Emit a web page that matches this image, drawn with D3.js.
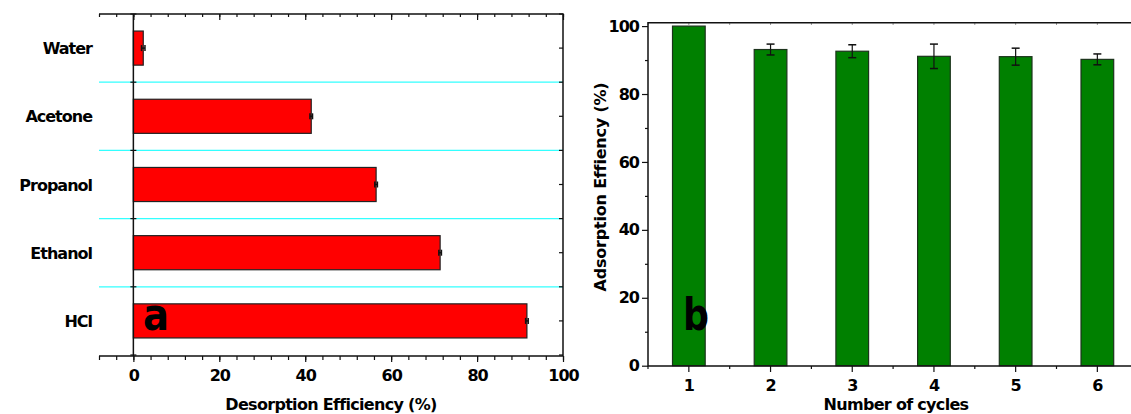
<!DOCTYPE html>
<html>
<head>
<meta charset="utf-8">
<script src="https://cdn.jsdelivr.net/npm/d3@7"></script>
<style>
  body { margin: 0; background: #fff; }
  text { font-family: "DejaVu Sans", sans-serif; font-weight: bold; fill: #000; }
</style>
</head>
<body>
<div id="chart"></div>
<script>
// panel a data
const solvents = ["Water", "Acetone", "Propanol", "Ethanol", "HCl"];
const desorption = [2.3, 41.4, 56.5, 71.4, 91.6];
const desorptionErr = [0.4, 0.3, 0.3, 0.3, 0.3];
const aTicks = [0, 20, 40, 60, 80, 100];

// panel b data
const cycles = ["1", "2", "3", "4", "5", "6"];
const adsorption = [100, 93.1, 92.6, 91.1, 91.0, 90.2];
const adsorptionErr = [0, 1.6, 1.9, 3.6, 2.5, 1.6];
const bTicks = [0, 20, 40, 60, 80, 100];

const W = 1131, H = 414;

const svg = d3.select("#chart")
    .append("svg")
    .attr("width", W)
    .attr("height", H);

//----- panel a -----
const xa = d3.scaleLinear().domain([-8, 100]).range([99, 563]);
const ya = d3.scaleBand().domain(solvents).range([14, 355])
    .paddingInner(0.5).paddingOuter(0.25);

const ga = svg.append("g");

// cyan separators between categories
const bounds = solvents.slice(1).map(s => ya(s) - ya.step() * 0.25);
ga.selectAll("line.sep")
    .data(bounds)
    .enter()
    .append("line")
    .attr("x1", 99).attr("x2", 563)
    .attr("y1", d => d).attr("y2", d => d)
    .attr("stroke", "#33ffff")
    .attr("stroke-width", 1.2);

// bars
ga.selectAll("rect")
    .data(solvents)
    .enter()
    .append("rect")
    .attr("x", xa(0))
    .attr("y", d => ya(d))
    .attr("width", (d, i) => xa(desorption[i]) - xa(0))
    .attr("height", ya.bandwidth())
    .attr("fill", "#ff0000")
    .attr("stroke", "#222")
    .attr("stroke-width", 1.2);

// error bars
solvents.forEach((s, i) => {
    const cy = ya(s) + ya.bandwidth() / 2;
    const lo = xa(desorption[i] - desorptionErr[i]), hi = xa(desorption[i] + desorptionErr[i]);
    ga.append("line").attr("x1", lo).attr("x2", hi).attr("y1", cy).attr("y2", cy)
        .attr("stroke", "#111").attr("stroke-width", 1.5);
    [lo, hi].forEach(x => ga.append("line").attr("x1", x).attr("x2", x)
        .attr("y1", cy - 3).attr("y2", cy + 3).attr("stroke", "#111").attr("stroke-width", 1.5));
});

// bottom axis
const minorA = d3.range(-8, 101, 4);
ga.append("g")
    .attr("transform", "translate(0,356)")
    .call(d3.axisBottom(xa).tickValues(minorA).tickSize(4).tickFormat(""))
    .call(g => g.select(".domain").remove());
ga.append("g")
    .attr("class", "axis-a")
    .attr("transform", "translate(0,356)")
    .call(d3.axisBottom(xa).tickValues(aTicks).tickSize(6).tickPadding(8).tickFormat(d3.format("d")))
    .call(g => g.select(".domain").remove());

// top ticks (inward)
ga.append("g")
    .attr("transform", "translate(0,14)")
    .call(d3.axisBottom(xa).tickValues(minorA).tickSize(3).tickFormat(""))
    .call(g => g.select(".domain").remove());
ga.append("g")
    .attr("transform", "translate(0,14)")
    .call(d3.axisBottom(xa).tickValues(aTicks).tickSize(6).tickFormat(""))
    .call(g => g.select(".domain").remove());

// frame: top, bottom, right; y axis at zero
ga.append("path")
    .attr("d", `M99,14H563V356H99`)
    .attr("fill", "none").attr("stroke", "#111").attr("stroke-width", 1.5);
ga.append("line")
    .attr("x1", xa(0)).attr("x2", xa(0)).attr("y1", 14).attr("y2", 356)
    .attr("stroke", "#111").attr("stroke-width", 1.5);

// y ticks at boundaries and centres
const yTickPos = [14, ...bounds, 355];
ga.selectAll("line.yt")
    .data(yTickPos)
    .enter()
    .append("line")
    .attr("x1", xa(0) - 3).attr("x2", xa(0) + 3)
    .attr("y1", d => d).attr("y2", d => d)
    .attr("stroke", "#111").attr("stroke-width", 1.2);
const rTicks = yTickPos.concat(solvents.map(s => ya(s) + ya.bandwidth() / 2));
ga.selectAll("line.rt")
    .data(rTicks)
    .enter()
    .append("line")
    .attr("x1", 563).attr("x2", 559)
    .attr("y1", d => d).attr("y2", d => d)
    .attr("stroke", "#111").attr("stroke-width", 1.2);

// category labels
ga.selectAll("text.cat")
    .data(solvents)
    .enter()
    .append("text")
    .attr("x", 92)
    .attr("y", d => ya(d) + ya.bandwidth() / 2 + 6)
    .attr("text-anchor", "end")
    .style("font-size", "16px")
    .style("letter-spacing", "-1px")
    .text(d => d);

ga.append("text")
    .attr("x", 331).attr("y", 410)
    .attr("text-anchor", "middle")
    .style("font-size", "16px")
    .style("letter-spacing", "-0.7px")
    .text("Desorption Efficiency (%)");

ga.append("text")
    .attr("x", 143).attr("y", 330)
    .attr("textLength", 26).attr("lengthAdjust", "spacingAndGlyphs")
    .style("font-size", "44px")
    .text("a");

//----- panel b -----
const xb = d3.scaleBand().domain(cycles).range([648, 1138.2])
    .paddingInner(0.6).paddingOuter(0.3);
const yb = d3.scaleLinear().domain([0, 101]).range([365.7, 22.7]);

const gb = svg.append("g");

gb.selectAll("rect")
    .data(cycles)
    .enter()
    .append("rect")
    .attr("x", d => xb(d))
    .attr("y", (d, i) => yb(adsorption[i]))
    .attr("width", xb.bandwidth())
    .attr("height", (d, i) => yb(0) - yb(adsorption[i]))
    .attr("fill", "#008000")
    .attr("stroke", "#1c331c")
    .attr("stroke-width", 1.2);

// error bars
cycles.forEach((c, i) => {
    if (!adsorptionErr[i]) return;
    const cx = xb(c) + xb.bandwidth() / 2;
    const top = yb(adsorption[i] + adsorptionErr[i]), bot = yb(adsorption[i] - adsorptionErr[i]);
    gb.append("line").attr("x1", cx).attr("x2", cx).attr("y1", top).attr("y2", bot)
        .attr("stroke", "#111").attr("stroke-width", 1.2);
    [top, bot].forEach(y => gb.append("line").attr("x1", cx - 4).attr("x2", cx + 4)
        .attr("y1", y).attr("y2", y).attr("stroke", "#111").attr("stroke-width", 1.5));
});

// left axis
gb.append("g")
    .attr("transform", "translate(648,0)")
    .call(d3.axisLeft(yb).tickValues(d3.range(10, 101, 20)).tickSize(3).tickFormat(""))
    .call(g => g.select(".domain").remove());
gb.append("g")
    .attr("transform", "translate(648,0)")
    .call(d3.axisLeft(yb).tickValues(bTicks).tickSize(6).tickPadding(3))
    .call(g => g.select(".domain").remove());

// bottom axis
const centres = cycles.map(c => xb(c) + xb.bandwidth() / 2);
const halves = centres.map(c => c - xb.step() / 2).concat([centres[5] + xb.step() / 2]);
gb.selectAll("line.bm")
    .data(halves)
    .enter()
    .append("line")
    .attr("x1", d => d).attr("x2", d => d)
    .attr("y1", 366).attr("y2", 369)
    .attr("stroke", "#111").attr("stroke-width", 1.2);
gb.append("g")
    .attr("transform", "translate(0,366)")
    .call(d3.axisBottom(xb).tickSize(6).tickPadding(8))
    .call(g => g.select(".domain").remove());

// top faint ticks
gb.selectAll("line.tt")
    .data(centres.concat(halves))
    .enter()
    .append("line")
    .attr("x1", d => d).attr("x2", d => d)
    .attr("y1", 22.7).attr("y2", 25)
    .attr("stroke", "#999").attr("stroke-width", 1);

gb.append("path")
    .attr("d", `M1138,22.7H648V366H1138`)
    .attr("fill", "none").attr("stroke", "#111").attr("stroke-width", 1.5);

gb.append("text")
    .attr("transform", "translate(606,187) rotate(-90)")
    .attr("text-anchor", "middle")
    .style("font-size", "16px")
    .style("letter-spacing", "-0.2px")
    .text("Adsorption Effiency (%)");

gb.append("text")
    .attr("x", 896).attr("y", 410)
    .attr("text-anchor", "middle")
    .style("font-size", "16px")
    .style("letter-spacing", "-0.7px")
    .text("Number of cycles");

gb.append("text")
    .attr("x", 683).attr("y", 330)
    .attr("textLength", 26).attr("lengthAdjust", "spacingAndGlyphs")
    .style("font-size", "44px")
    .text("b");

// tick text styling
svg.selectAll(".tick text")
    .style("font-family", "'DejaVu Sans', sans-serif")
    .style("font-weight", "bold")
    .style("font-size", "16px")
    .style("letter-spacing", "-1px")
    .attr("fill", "#000");
svg.selectAll(".tick line").attr("stroke", "#111").attr("stroke-width", 1.2);
</script>
</body>
</html>
